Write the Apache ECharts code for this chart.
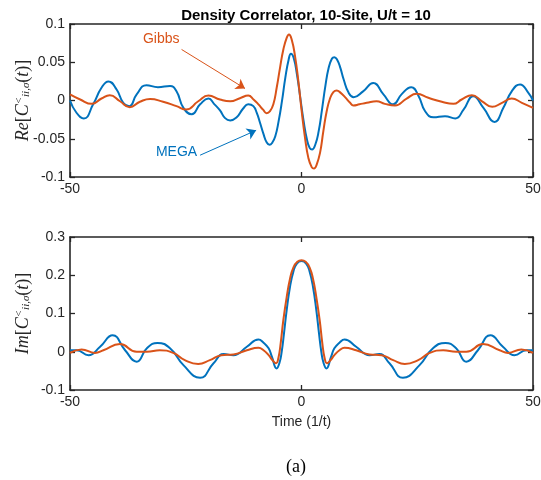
<!DOCTYPE html>
<html><head><meta charset="utf-8">
<script src="https://cdn.jsdelivr.net/npm/echarts@6/dist/echarts.min.js"></script>
<style>html,body{margin:0;padding:0;background:#fff}#c{width:541px;height:480px}</style>
</head><body><div id="c"></div>
<script>
// ---- data ----
const xTicks = [-50, 0, 50];
const reTicks = [-0.1, -0.05, 0, 0.05, 0.1];
const imTicks = [-0.1, 0, 0.1, 0.2, 0.3];

const megaRe = [[-50,0],[-48.6,-0.016],[-47,-0.0235],[-45,-0.005],[-43.2,0.0166],[-41.7,0.025],[-39.9,0.014],[-38.5,-0.003],[-37.2,-0.0074],[-35.6,0.008],[-33.5,0.02],[-31,0.0174],[-28.4,0.019],[-27,0.012],[-25.5,-0.0096],[-23.7,-0.018],[-21.9,-0.005],[-20.1,0.0026],[-18.8,-0.005],[-17.6,-0.013],[-16.5,-0.023],[-15.4,-0.026],[-14.0,-0.022],[-12.6,-0.0105],[-11.5,-0.005],[-10.4,-0.0074],[-9.68,-0.016],[-8.96,-0.029],[-8.2,-0.044],[-7.5,-0.055],[-6.9,-0.058],[-6.3,-0.055],[-5.66,-0.0468],[-4.94,-0.027],[-4.22,-0.0009],[-3.5,0.0296],[-2.78,0.0534],[-2.28,0.061],[-1.7,0.0558],[-0.98,0.034],[-0.26,0.0035],[0.46,-0.027],[1.18,-0.051],[1.76,-0.0619],[2.27,-0.0641],[2.99,-0.0575],[3.71,-0.0401],[4.43,-0.0118],[5.15,0.0187],[5.87,0.0427],[6.59,0.0549],[7.1,0.0566],[7.67,0.0536],[8.39,0.0427],[9.11,0.0275],[10.19,0.01],[11.27,0.0044],[13.3,0.012],[15.5,0.023],[17.7,0.008],[19.8,-0.005],[21.6,0.008],[23.7,0.0174],[25.3,0.0057],[26.7,-0.014],[28.5,-0.022],[31,-0.0205],[33.2,-0.0235],[35,-0.012],[37.1,0.0057],[39.3,-0.0096],[41.7,-0.028],[43.6,-0.0096],[45.4,0.012],[47.2,0.021],[49,0.01],[50,0]];

const gibbsRe = [[-50,0.008],[-47.8,0.0013],[-45.3,-0.0044],[-43.2,0.0026],[-41.4,0.007],[-39.2,-0.001],[-37.1,-0.0087],[-34.9,-0.0017],[-32.7,0.002],[-29.9,-0.0017],[-27,-0.0074],[-24.9,-0.0118],[-22.3,-0.001],[-20.1,0.0065],[-17.6,0.0013],[-15.4,-0.001],[-13.3,0.003],[-11.5,0.0065],[-10.3,0.001],[-9.3,-0.005],[-8.3,-0.012],[-7.52,-0.0166],[-6.8,-0.014],[-6.08,-0.005],[-5.36,0.0166],[-4.64,0.0427],[-3.92,0.0667],[-3.2,0.0819],[-2.7,0.0863],[-2.12,0.0797],[-1.4,0.058],[-0.68,0.0253],[0.04,-0.014],[0.76,-0.0488],[1.48,-0.075],[2.2,-0.0871],[2.7,-0.0889],[3.28,-0.0837],[4.0,-0.0684],[4.72,-0.04],[5.44,-0.014],[6.16,0.0026],[6.88,0.0109],[7.6,0.0131],[8.46,0.01],[9.4,0.0044],[10.5,-0.003],[11.2,-0.0065],[12.5,-0.005],[14.1,-0.003],[16.2,-0.001],[18,-0.0044],[20.2,-0.0065],[22.7,0.0026],[24.9,0.0087],[27.4,0.0035],[30.3,-0.0017],[32.8,-0.0044],[34.6,0.0013],[36.8,0.007],[39,-0.001],[41.2,-0.0083],[43.3,-0.003],[45.4,0.0026],[47.6,-0.003],[50,-0.0096]];

const megaIm = [[-50,0.004],[-48.6,0.004],[-46,-0.009],[-43.5,0.013],[-40.8,0.043],[-38.1,0.004],[-35.6,-0.026],[-33.4,0.009],[-31.1,0.023],[-28.4,0.009],[-25.5,-0.035],[-21.9,-0.068],[-19,-0.03],[-16.8,-0.006],[-14.7,-0.009],[-11.8,0.013],[-9.3,0.032],[-8.2,0.0235],[-7.1,0.009],[-6.4,-0.013],[-5.36,-0.0435],[-4.78,-0.03],[-4.28,0],[-3.78,0.048],[-3.2,0.109],[-2.48,0.17],[-1.76,0.209],[-1.04,0.23],[0,0.237],[1.04,0.23],[1.76,0.209],[2.48,0.17],[3.2,0.109],[3.78,0.048],[4.28,0],[4.78,-0.03],[5.36,-0.0435],[6.4,-0.013],[7.1,0.009],[8.2,0.0235],[9.3,0.032],[11.8,0.013],[14.7,-0.009],[16.8,-0.006],[19,-0.03],[21.9,-0.068],[25.5,-0.035],[28.4,0.009],[31.1,0.023],[33.4,0.009],[35.6,-0.026],[38.1,0.004],[40.8,0.043],[43.5,0.013],[46,-0.009],[48.6,0.004],[50,0.004]];

const gibbsIm = [[-50,-0.003],[-47.5,0.006],[-44.6,-0.003],[-42.8,0.004],[-39.2,0.02],[-35.6,0],[-33.4,0],[-30.6,0.004],[-27.7,-0.003],[-25.2,-0.022],[-22.3,-0.032],[-19.8,-0.022],[-17.3,-0.009],[-14.7,-0.007],[-11.8,0.004],[-9.3,0.0104],[-8.2,0.004],[-7.1,-0.009],[-6.2,-0.023],[-5.5,-0.03],[-5.0,-0.017],[-4.5,0.022],[-3.92,0.083],[-3.2,0.143],[-2.48,0.191],[-1.76,0.22],[-0.9,0.235],[0,0.239],[0.9,0.235],[1.76,0.22],[2.48,0.191],[3.2,0.143],[3.92,0.083],[4.5,0.022],[5.0,-0.017],[5.5,-0.03],[6.2,-0.023],[7.1,-0.009],[8.2,0.004],[9.3,0.0104],[11.8,0.004],[14.7,-0.007],[17.3,-0.009],[19.8,-0.022],[22.3,-0.032],[25.2,-0.022],[27.7,-0.003],[30.6,0.004],[33.4,0],[35.6,0],[39.2,0.02],[42.8,0.004],[44.6,-0.003],[47.5,0.006],[50,-0.003]];

// annotation anchors (data coordinates)
const gibbsLabel = [-30.3, 0.0797];
const megaLabel = [-27.0, -0.068];
const gibbsArrow = [[-25.9, 0.0667], [-12.2, 0.0157]];
const megaArrow = [[-21.9, -0.0715], [-9.8, -0.039]];

// ---- styling ----
const BLUE = '#0072BD', ORANGE = '#D95319', AX = '#262626';
const FONT = 'Liberation Sans, Arial, Helvetica, sans-serif';
const SERIF = 'Liberation Serif, DejaVu Serif, serif';
const fmt = v => String(Math.round(v * 100) / 100);

function xAx(grid, pos, labels, name) {
  return {
    type: 'value', gridIndex: grid, position: pos, min: xTicks[0], max: xTicks[xTicks.length-1], interval: xTicks[1]-xTicks[0],
    axisLine: {show: true, onZero: false, lineStyle: {color: AX, width: 1.6}},
    axisTick: {show: true, inside: true, length: 5, lineStyle: {color: AX, width: 1.3}},
    axisLabel: {show: labels, color: AX, fontFamily: FONT, fontSize: 14, margin: 5, formatter: fmt},
    splitLine: {show: false},
    name: name || '', nameLocation: 'middle', nameGap: 25, nameMoveOverlap: false,
    nameTextStyle: {color: AX, fontFamily: FONT, fontSize: 14}
  };
}
function yAx(grid, pos, ticks, labels, name, gap) {
  return {
    type: 'value', gridIndex: grid, position: pos, min: ticks[0], max: ticks[ticks.length-1], interval: ticks[1]-ticks[0],
    axisLine: {show: true, onZero: false, lineStyle: {color: AX, width: 1.6}},
    axisTick: {show: true, inside: true, length: 5, lineStyle: {color: AX, width: 1.3}},
    axisLabel: {show: labels, color: AX, fontFamily: FONT, fontSize: 14, margin: 5, formatter: fmt},
    splitLine: {show: false},
    name: name || '', nameLocation: 'middle', nameGap: gap || 38, nameRotate: 90, nameMoveOverlap: false,
    nameTextStyle: {
      color: AX,
      rich: {
        i: {fontFamily: SERIF, fontStyle: 'italic', fontSize: 18, color: AX},
        n: {fontFamily: SERIF, fontSize: 18, color: AX},
        sp: {fontFamily: SERIF, fontStyle: 'italic', fontSize: 11, color: AX, verticalAlign: 'top', padding: [0,0,6,0]},
        sb: {fontFamily: SERIF, fontStyle: 'italic', fontSize: 11, color: AX, verticalAlign: 'bottom', padding: [6,0,0,0]}
      }
    }
  };
}

const lineS = (name, data, color, xi, yi, extra) => Object.assign({
  name, type: 'line', data, xAxisIndex: xi, yAxisIndex: yi, smooth: 0.5,
  showSymbol: false, symbol: 'none', lineStyle: {color, width: 2}, itemStyle: {color}, animation: false, silent: true
}, extra || {});

const arrowLine = (pts, color) => ({
  silent: true, symbol: ['none', 'arrow'], symbolSize: 9, animation: false,
  lineStyle: {color, width: 1, type: 'solid'}, label: {show: false}, emphasis: {disabled: true},
  data: [[{coord: pts[0]}, {coord: pts[1]}]]
});
const textPoint = (pt, text, color) => ({
  silent: true, symbol: 'circle', symbolSize: 0, animation: false,
  label: {show: true, position: 'inside', formatter: text, color, fontFamily: FONT, fontSize: 14},
  data: [{coord: pt}]
});

const chart = echarts.init(document.getElementById('c'), null, {renderer: 'canvas'});
chart.setOption({
  backgroundColor: '#fff',
  animation: false,
  title: [
    {text: 'Density Correlator, 10-Site, U/t = 10', left: 301, top: 3, textAlign: 'center',
     textStyle: {fontFamily: FONT, fontSize: 15, fontWeight: 'bold', color: '#000'}},
    {text: '(a)', left: 291, top: 453, textAlign: 'center',
     textStyle: {fontFamily: SERIF, fontSize: 18, fontWeight: 'normal', color: '#000'}}
  ],
  grid: [
    {left: 70, right: 8, top: 24, height: 153, containLabel: false, outerBoundsMode: 'none'},
    {left: 70, right: 8, top: 237, height: 153, containLabel: false, outerBoundsMode: 'none'}
  ],
  xAxis: [
    xAx(0, 'bottom', true), xAx(0, 'top', false),
    xAx(1, 'bottom', true, 'Time (1/t)'), xAx(1, 'top', false)
  ],
  yAxis: [
    yAx(0, 'left', reTicks, true, '{i|Re}{n|[}{i|C}{sp|<}{sb|ii,σ}{n|(}{i|t}{n|)]}', 38), yAx(0, 'right', reTicks, false),
    yAx(1, 'left', imTicks, true, '{i|Im}{n|[}{i|C}{sp|<}{sb|ii,σ}{n|(}{i|t}{n|)]}', 38), yAx(1, 'right', imTicks, false)
  ],
  series: [
    lineS('MEGA', megaRe, BLUE, 0, 0, {markLine: arrowLine(megaArrow, BLUE), markPoint: textPoint(megaLabel, 'MEGA', BLUE)}),
    lineS('Gibbs', gibbsRe, ORANGE, 0, 0, {markLine: arrowLine(gibbsArrow, ORANGE), markPoint: textPoint(gibbsLabel, 'Gibbs', ORANGE)}),
    lineS('MEGA', megaIm, BLUE, 2, 2),
    lineS('Gibbs', gibbsIm, ORANGE, 2, 2)
  ]
});
</script></body></html>
